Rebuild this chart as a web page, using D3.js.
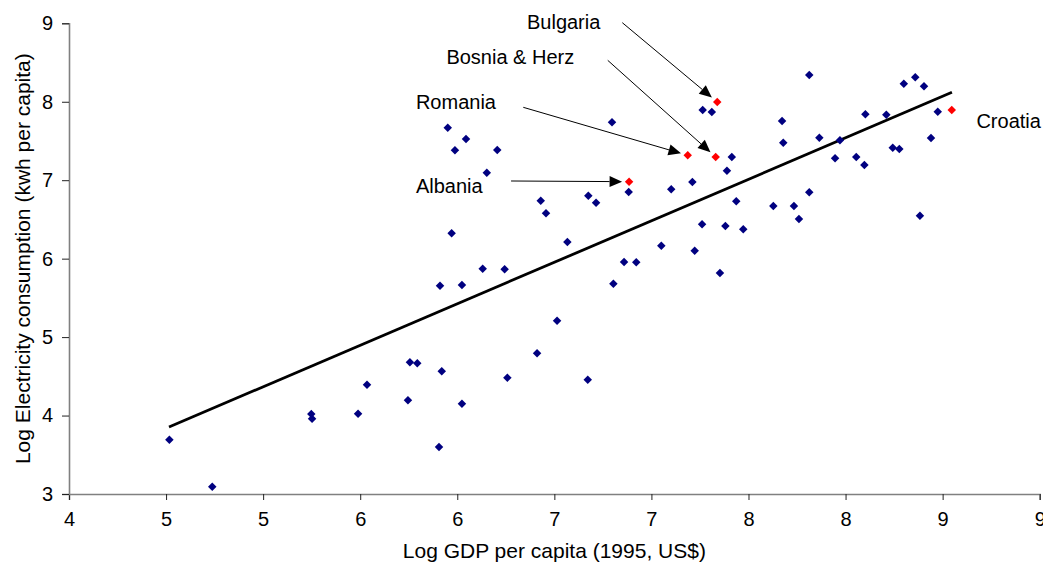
<!DOCTYPE html>
<html>
<head>
<meta charset="utf-8">
<script src="https://cdn.jsdelivr.net/npm/d3@7"></script>
<style>
  html, body { margin: 0; padding: 0; background: #fff; }
  svg { display: block; }
  text { font-family: "Liberation Sans", Arial, sans-serif; fill: #000; }
</style>
</head>
<body>
<svg id="chart" width="1043" height="572"></svg>
<script>
// Log GDP per capita (1995, US$) vs log electricity consumption (kWh per capita)
const gdp = [4.517, 4.738, 5.248, 5.252, 5.489, 5.535, 5.746, 5.756, 5.794, 5.920,
  5.906, 6.024, 6.258, 6.411, 6.514, 6.672, 5.911, 6.024, 6.804, 6.131,
  6.244, 5.971, 6.567, 6.859, 6.922, 7.051, 7.223, 7.353, 7.261, 7.381,
  7.473, 7.437, 7.628, 7.734, 7.760, 7.813, 8.383, 6.430, 6.457, 6.675,
  6.715, 6.883, 7.102, 7.211, 7.389, 7.414, 6.152, 5.988, 6.206, 6.045,
  5.951, 6.797, 7.264, 7.311, 7.673, 7.679, 7.813, 7.865, 7.971, 7.946,
  8.055, 8.097, 8.102, 8.210, 8.243, 8.277, 8.300, 8.359, 8.404, 8.440, 8.475];
const electricity = [3.692, 3.093, 4.020, 3.960, 4.024, 4.393, 4.194, 4.679, 4.666, 4.564,
  3.599, 4.151, 4.482, 4.793, 5.209, 4.457, 5.655, 5.664, 5.681, 5.872,
  5.864, 6.323, 6.212, 5.957, 5.953, 6.165, 6.101, 5.817, 6.438, 6.416,
  6.374, 6.731, 6.671, 6.671, 6.505, 6.846, 6.547, 6.739, 6.578, 6.802,
  6.713, 6.850, 6.884, 6.977, 7.121, 7.296, 7.096, 7.381, 7.385, 7.525,
  7.669, 7.738, 7.895, 7.869, 7.755, 7.478, 8.341, 7.542, 7.509, 7.279,
  7.296, 7.194, 7.840, 7.835, 7.414, 7.398, 8.230, 8.312, 8.197, 7.538, 7.873];

// Highlighted countries
const countries = ["Albania", "Romania", "Bosnia & Herz", "Bulgaria", "Croatia"];
const countryGdp = [6.885, 7.187, 7.331, 7.339, 8.547];
const countryElectricity = [6.981, 7.317, 7.296, 7.997, 7.895];

// Linear trend line end points
const trendGdp = [4.515, 8.548];
const trendElectricity = [3.854, 8.120];

// Axis ticks
const xTickValues = [4, 4.5, 5, 5.5, 6, 6.5, 7, 7.5, 8, 8.5, 9];
const xTickLabels = ["4", "5", "5", "6", "6", "7", "7", "8", "8", "9", "9"];
const yTickValues = [3, 4, 5, 6, 7, 8, 9];
const yTickLabels = ["3", "4", "5", "6", "7", "8", "9"];

const xTitle = "Log GDP per capita (1995, US$)";
const yTitle = "Log Electricity consumption (kwh per capita)";

// Callout placement in axis units: label anchor and arrow tail
const callouts = [
  { name: "Albania",       lx: 5.787, ly: 6.930, tx: 6.277, ty: 6.990 },
  { name: "Romania",       lx: 5.787, ly: 7.993, tx: 6.340, ty: 7.929 },
  { name: "Bosnia & Herz", lx: 5.944, ly: 8.567, tx: 6.775, ty: 8.528 },
  { name: "Bulgaria",      lx: 6.359, ly: 9.020, tx: 6.850, ty: 9.008 },
  { name: "Croatia",       lx: 8.674, ly: 7.758, tx: null,  ty: null }
];

const svg = d3.select("#chart");
const W = 1043, H = 572;
svg.append("rect").attr("width", W).attr("height", H).attr("fill", "#fff");

const x = d3.scaleLinear().domain([4, 9]).range([69, 1039.7]);
const y = d3.scaleLinear().domain([3, 9]).range([494, 23.3]);

// Axes
const xAxis = d3.axisBottom(x).tickValues(xTickValues)
  .tickFormat((d, i) => xTickLabels[i]).tickSizeOuter(0).tickSize(6).tickPadding(12);
const yAxis = d3.axisLeft(y).tickValues(yTickValues)
  .tickFormat((d, i) => yTickLabels[i]).tickSizeOuter(0).tickSize(7).tickPadding(9);

const gx = svg.append("g").attr("transform", `translate(0,${y(3)})`).call(xAxis);
const gy = svg.append("g").attr("transform", `translate(${x(4)},0)`).call(yAxis);
[gx, gy].forEach(g => {
  g.select(".domain").attr("stroke", "#808080").attr("stroke-width", 1.6);
  g.selectAll(".tick line").attr("stroke", "#222").attr("stroke-width", 1);
  g.selectAll(".tick text").attr("font-size", 20).attr("fill", "#000")
    .attr("font-family", "Liberation Sans, Arial, sans-serif");
});

// Axis titles
svg.append("text").attr("x", (x(4) + x(9)) / 2).attr("y", 558)
  .attr("text-anchor", "middle").attr("font-size", 21).text(xTitle);
svg.append("text")
  .attr("transform", `translate(30,${(y(3) + y(9)) / 2}) rotate(-90)`)
  .attr("text-anchor", "middle").attr("font-size", 21).text(yTitle);

// Trend line
svg.append("line")
  .attr("x1", x(trendGdp[0])).attr("y1", y(trendElectricity[0]))
  .attr("x2", x(trendGdp[1])).attr("y2", y(trendElectricity[1]))
  .attr("stroke", "#000").attr("stroke-width", 2.8);

// Markers (diamonds)
const diamond = d3.symbol().type(d3.symbolSquare).size(36);
svg.append("g").selectAll("path")
  .data(d3.range(gdp.length))
  .join("path")
  .attr("d", diamond)
  .attr("transform", i => `translate(${x(gdp[i])},${y(electricity[i])}) rotate(45)`)
  .attr("fill", "#000080");

svg.append("g").selectAll("path")
  .data(d3.range(countries.length))
  .join("path")
  .attr("d", diamond)
  .attr("transform", i => `translate(${x(countryGdp[i])},${y(countryElectricity[i])}) rotate(45)`)
  .attr("fill", "#ff0000");

// Callouts
const gc = svg.append("g");
callouts.forEach(c => {
  gc.append("text").attr("x", x(c.lx)).attr("y", y(c.ly)).attr("dy", "0.35em")
    .attr("font-size", 20).text(c.name);
  if (c.tx === null) return;
  const k = countries.indexOf(c.name);
  const x0 = x(c.tx), y0 = y(c.ty);
  const px = x(countryGdp[k]), py = y(countryElectricity[k]);
  const dx = px - x0, dy = py - y0, len = Math.hypot(dx, dy);
  const ux = dx / len, uy = dy / len;
  const gap = 7, headLen = 12.5, headHalf = 5.5;
  const tipX = px - ux * gap, tipY = py - uy * gap;
  const baseX = tipX - ux * headLen, baseY = tipY - uy * headLen;
  gc.append("line").attr("x1", x0).attr("y1", y0).attr("x2", baseX).attr("y2", baseY)
    .attr("stroke", "#000").attr("stroke-width", 1);
  gc.append("path")
    .attr("d", `M${tipX},${tipY}L${baseX - uy * headHalf},${baseY + ux * headHalf}L${baseX + uy * headHalf},${baseY - ux * headHalf}Z`)
    .attr("fill", "#000");
});
</script>
</body>
</html>
